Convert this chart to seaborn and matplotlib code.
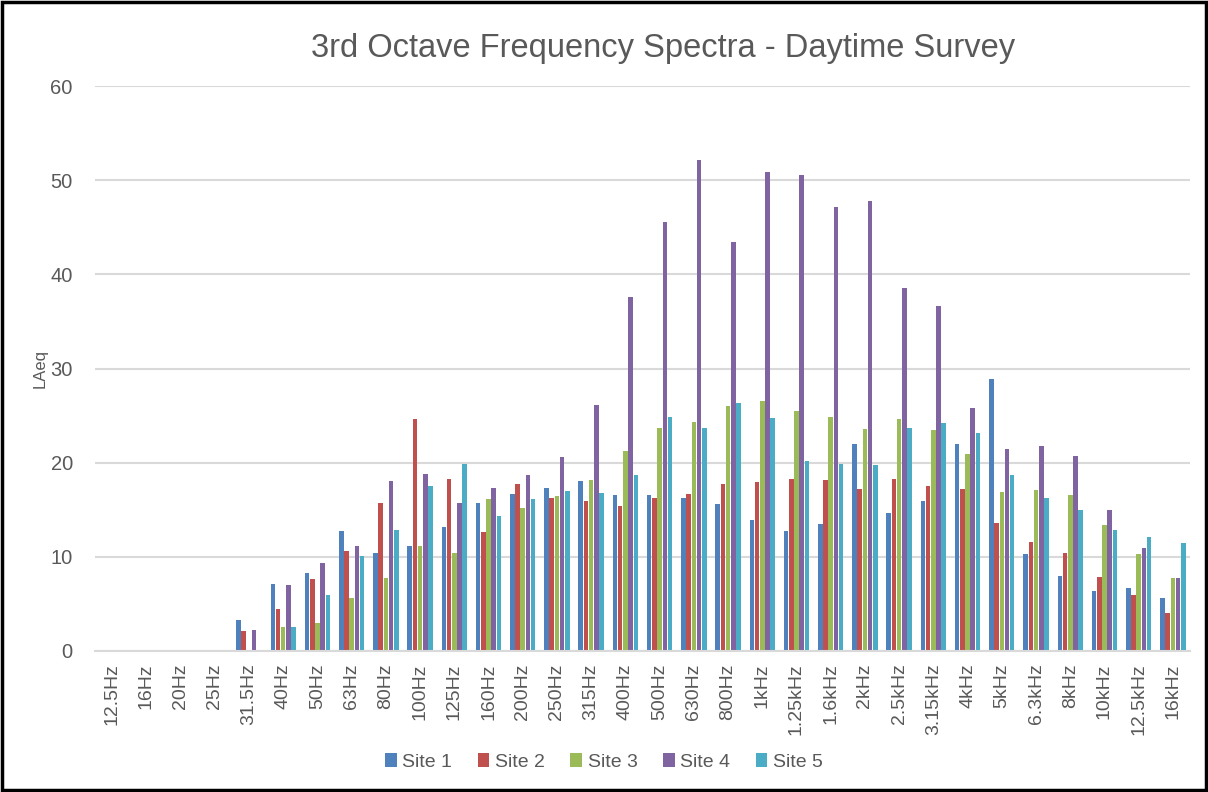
import numpy as np
import pandas as pd
import seaborn as sns
import matplotlib
matplotlib.use("Agg")
import matplotlib.pyplot as plt
from matplotlib.patches import Rectangle

nan = np.nan
freqs = ["12.5Hz", "16Hz", "20Hz", "25Hz", "31.5Hz", "40Hz", "50Hz", "63Hz", "80Hz",
         "100Hz", "125Hz", "160Hz", "200Hz", "250Hz", "315Hz", "400Hz", "500Hz",
         "630Hz", "800Hz", "1kHz", "1.25kHz", "1.6kHz", "2kHz", "2.5kHz", "3.15kHz",
         "4kHz", "5kHz", "6.3kHz", "8kHz", "10kHz", "12.5kHz", "16kHz"]
site1 = [nan, nan, nan, nan, 3.3, 7.1, 8.3, 12.7, 10.4, 11.1, 13.2, 15.7, 16.7, 17.3, 18.1, 16.6,
         16.6, 16.2, 15.6, 13.9, 12.7, 13.5, 22.0, 14.7, 15.9, 22.0, 28.9, 10.3, 8.0, 6.4, 6.7, 5.6]
site2 = [nan, nan, nan, nan, 2.1, 4.5, 7.6, 10.6, 15.7, 24.6, 18.3, 12.6, 17.7, 16.3, 15.9, 15.4,
         16.3, 16.7, 17.7, 18.0, 18.3, 18.2, 17.2, 18.3, 17.5, 17.2, 13.6, 11.6, 10.4, 7.9, 5.9, 4.0]
site3 = [nan, nan, nan, nan, nan, 2.6, 3.0, 5.6, 7.8, 11.2, 10.4, 16.1, 15.2, 16.5, 18.2, 21.2,
         23.7, 24.3, 26.0, 26.6, 25.5, 24.8, 23.6, 24.6, 23.5, 20.9, 16.9, 17.1, 16.6, 13.4, 10.3, 7.8]
site4 = [nan, nan, nan, nan, 2.2, 7.0, 9.3, 11.1, 18.1, 18.8, 15.7, 17.3, 18.7, 20.6, 26.1, 37.6,
         45.6, 52.1, 43.4, 50.9, 50.5, 47.1, 47.8, 38.6, 36.6, 25.8, 21.4, 21.8, 20.7, 15.0, 10.9, 7.8]
site5 = [nan, nan, nan, nan, nan, 2.6, 5.9, 10.1, 12.8, 17.5, 19.9, 14.3, 16.1, 17.0, 16.8, 18.7,
         24.9, 23.7, 26.3, 24.7, 20.2, 19.9, 19.7, 23.7, 24.2, 23.1, 18.7, 16.3, 15.0, 12.9, 12.1, 11.5]
sites = ["Site 1", "Site 2", "Site 3", "Site 4", "Site 5"]
colors = ["#4F81BD", "#C0504D", "#9BBB59", "#8064A2", "#4BACC6"]

title = "3rd Octave Frequency Spectra - Daytime Survey"
ylabel = "LAeq"

rows = []
for s, vals in zip(sites, [site1, site2, site3, site4, site5]):
    for f, v in zip(freqs, vals):
        rows.append({"freq": f, "site": s, "LAeq": v})
df = pd.DataFrame(rows)

sns.set_theme(style="white")
fam = ["Liberation Sans Narrow", "Liberation Sans", "DejaVu Sans"]
plt.rcParams["font.family"] = fam
txt = "#595959"
grid = "#D9D9D9"

fig = plt.figure(figsize=(12.08, 7.92), dpi=100)
ax = fig.add_axes([95 / 1208, 1 - 651 / 792, (1190 - 95) / 1208, (651 - 86) / 792])

sns.barplot(data=df, x="freq", y="LAeq", hue="site", order=freqs, hue_order=sites,
            palette=colors, width=0.76, gap=0.12, saturation=1, ax=ax, errorbar=None,
            edgecolor="none")

ax.set_ylim(0, 60)
ax.set_yticks(range(0, 61, 10))
ax.yaxis.grid(True, color=grid, linewidth=1.5)
ax.set_axisbelow(True)
for sp in ["top", "right", "left"]:
    ax.spines[sp].set_visible(False)
ax.spines["bottom"].set_color(grid)
ax.spines["bottom"].set_linewidth(1.5)
ax.set_xlabel("")
ax.set_ylabel("")
ax.tick_params(axis="y", length=0, pad=16, labelsize=14.5, labelcolor=txt)
ax.tick_params(axis="x", length=0, pad=9, labelsize=14, labelcolor=txt, rotation=90)

sns.move_legend(ax, "center", bbox_to_anchor=(0.5, 1 - 762 / 792), bbox_transform=fig.transFigure,
                ncol=5, frameon=False, title=None, fontsize=14, handlelength=0.6,
                handleheight=0.7, handletextpad=0.3, columnspacing=1.3, labelcolor=txt)

fig.text(663 / 1208, 1 - 48 / 792, title, ha="center", va="center", fontsize=23.5, color=txt)
fig.text(40 / 1208, 1 - 368 / 792, ylabel, ha="center", va="center", rotation=90,
         fontsize=12, color=txt)

fig.patches.append(Rectangle((0.002, 0.003), 0.996, 0.994, transform=fig.transFigure,
                             fill=False, edgecolor="black", linewidth=2.5))

fig.savefig("out.png", dpi=100, facecolor="white")
